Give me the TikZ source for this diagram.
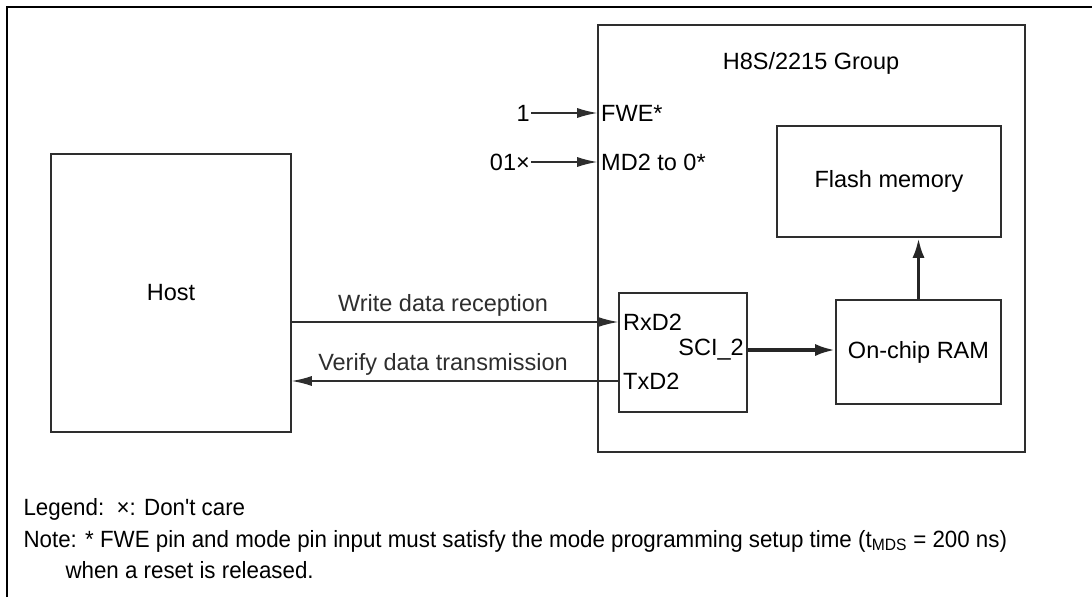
\documentclass[tikz,border=0pt]{standalone}
\usepackage{fontspec}
\setmainfont{Liberation Sans}
\newfontfamily\notefont[FakeStretch=0.95]{Liberation Sans}
\usetikzlibrary{positioning,arrows.meta}
\definecolor{LineGray}{HTML}{2E2E2E}

\begin{document}
\begin{tikzpicture}[
  x=1pt, y=-1pt,
  font=\fontsize{23.5}{28}\selectfont,
  box/.style={draw=LineGray, line width=1.6pt, inner sep=0pt, align=center},
  pin/.style={inner sep=1pt},
  flowlabel/.style={above=2pt, xshift=-12pt},
  notetext/.style={anchor=west, font=\fontsize{23.5}{28}\notefont},
  arrow/.style={-{Latex[length=20pt, width=10pt]}, line width=1.3pt, LineGray},
  busarrow/.style={-{Latex[length=20pt, width=12pt]}, line width=3.5pt, black!85}
]
\useasboundingbox (0,0) rectangle (1092,597);
\draw[line width=2.5pt] (7,597) -- (7,7) -- (1092,7);

% chip and its blocks
\node[box, minimum width=427pt, minimum height=427pt] (chip) at (811.5,238.5) {};
\node (title) at (811,63) {H8S/2215 Group};
\node[box, minimum width=224pt, minimum height=111pt] (flash) at (889,181.5) {Flash memory};
\node[box, minimum width=165pt, minimum height=104pt] (ram) at (918.5,352) {On-chip RAM};
\node[box, minimum width=128pt, minimum height=119pt] (sci) at (683,352.5) {};
\node[box, minimum width=240pt, minimum height=278pt] (host) at (171,293) {Host};

% pins
\node[pin, anchor=west] (fwe) at (600,113) {FWE*};
\node[pin, anchor=west] (md) at (600,162) {MD2 to 0*};
\node[pin, anchor=east] (fweval) at (531,113) {1};
\node[pin, anchor=east] (mdval) at (531,162) {01×};
\node[pin, anchor=west] (rxd) at (622,322) {RxD2};
\node[pin, anchor=east] (sciname) at (745,350) {SCI\_2};
\node[pin, anchor=west] (txd) at (622,381) {TxD2};

\draw[arrow] (fweval) -- (chip.west |- fweval);
\draw[arrow] (mdval) -- (chip.west |- mdval);
\draw[arrow] (host.east |- rxd) -- node[flowlabel] {Write data reception} (sci.west |- rxd);
\draw[arrow] (sci.west |- txd) -- node[flowlabel] {Verify data transmission} (host.east |- txd);
\draw[busarrow] (sci.east |- sciname) -- (ram.west |- sciname);
\draw[busarrow] (ram.north) -- (flash.south -| ram.north);

% legend and note
\node[notetext] (legend) at (20,509) {Legend:\ \ ×: Don't care};
\node[notetext] (note) at (20,541) {Note: * FWE pin and mode pin input must satisfy the mode programming setup time (t\textsubscript{MDS} = 200 ns)};
\node[notetext] (note2) at (62,570) {when a reset is released.};
\end{tikzpicture}
\end{document}
